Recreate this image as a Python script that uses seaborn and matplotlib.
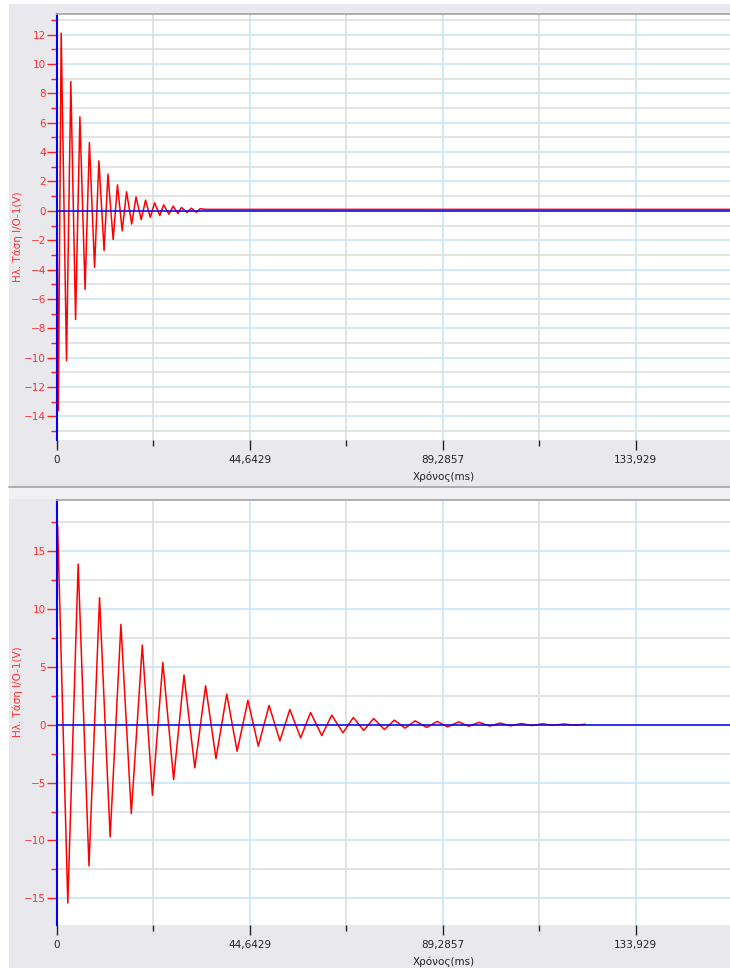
import matplotlib
matplotlib.use("Agg")
import matplotlib.pyplot as plt
import seaborn as sns
from matplotlib.ticker import FixedLocator, MultipleLocator
from matplotlib.patches import Rectangle
from matplotlib.lines import Line2D

# extrema: time (ms) and voltage (V)
top_t = [0, 0.3, 0.97, 2.2, 3.2, 4.3, 5.3, 6.5, 7.5, 8.7, 9.7, 10.9, 11.8, 13.0,
         14.0, 15.1, 16.1, 17.3, 18.3, 19.5, 20.5, 21.6, 22.6, 23.8, 24.7, 25.9,
         26.9, 28.0, 28.8, 30.1, 31.1, 32.3, 33.1, 34.5, 156]
top_v = [0, -13.6, 12.1, -10.2, 8.8, -7.4, 6.4, -5.35, 4.65, -3.85, 3.4, -2.7, 2.5, -1.95,
         1.77, -1.36, 1.3, -0.9, 0.95, -0.6, 0.73, -0.45, 0.55, -0.32, 0.41, -0.23,
         0.32, -0.18, 0.23, -0.11, 0.18, -0.1, 0.14, 0.1, 0.1]

bot_t = [0.15, 2.5, 4.9, 7.4, 9.85, 12.3, 14.8, 17.2, 19.75, 22.1, 24.5, 27.0, 29.4,
         31.9, 34.4, 36.8, 39.3, 41.7, 44.2, 46.6, 49.1, 51.6, 53.9, 56.4, 58.7,
         61.3, 63.6, 66.2, 68.6, 71.0, 73.3, 75.8, 78.1, 80.6, 82.9, 85.6, 88.0,
         90.4, 93.0, 95.3, 97.7, 100.2, 102.6, 105.0, 107.5, 110.0, 112.4, 114.8,
         117.3, 119.8, 122.3]
bot_v = [17.2, -15.4, 13.87, -12.2, 10.96, -9.7, 8.66, -7.68, 6.87, -6.1, 5.37, -4.74, 4.28,
         -3.73, 3.36, -2.93, 2.64, -2.29, 2.1, -1.86, 1.66, -1.4, 1.31, -1.14, 1.05,
         -0.94, 0.82, -0.7, 0.62, -0.5, 0.53, -0.42, 0.39, -0.3, 0.33, -0.24, 0.28,
         -0.19, 0.24, -0.14, 0.2, -0.12, 0.14, -0.1, 0.1, -0.08, 0.08, -0.06,
         0.06, -0.05, 0.04]

x_major = [0, 44.6429, 89.2857, 133.929]
x_labels = ["0", "44,6429", "89,2857", "133,929"]
x_minor = [22.3214, 66.9643, 111.607]

top_yticks = list(range(-14, 13, 2))
bot_yticks = [-15, -10, -5, 0, 5, 10, 15]

BG = "#e9e8ec"
W, H = 730, 968

sns.set_theme(style="white")
plt.rcParams['font.family'] = ['DejaVu Sans']

fig = plt.figure(figsize=(W / 100, H / 100), dpi=100, facecolor="white")
fig.add_artist(Rectangle((9 / W, 0), 1, 1 - 4 / H, transform=fig.transFigure,
                         facecolor=BG, edgecolor="none", zorder=0))
# separator band between the two panels
fig.add_artist(Rectangle((9 / W, 1 - 499 / H), 1, 12 / H, transform=fig.transFigure,
                         facecolor="#f1f0f3", edgecolor="none", zorder=0))
fig.add_artist(Line2D([9 / W, 1], [1 - 487 / H] * 2, transform=fig.transFigure,
                      color="#a8a8a8", lw=1.3))

ax1 = fig.add_axes([57 / W, 1 - 440 / H, 673 / W, 426 / H])
ax2 = fig.add_axes([57 / W, 1 - 925 / H, 673 / W, 425 / H])


def style_panel(ax, t, v, ylim, yticks, yminor, ylab_y):
    sns.lineplot(x=t, y=v, ax=ax, color="#ff0000", lw=1.1, estimator=None,
                 sort=False, legend=False, zorder=2)
    ax.axhline(0, color="#0000f0", lw=1.1, zorder=3)
    ax.set_xlim(0, 155.8)
    ax.set_ylim(*ylim)

    ax.xaxis.set_major_locator(FixedLocator(x_major))
    ax.xaxis.set_minor_locator(FixedLocator(x_minor))
    ax.set_xticklabels(x_labels)
    ax.yaxis.set_major_locator(FixedLocator(yticks))
    ax.yaxis.set_minor_locator(MultipleLocator(yminor))

    ax.set_axisbelow(True)
    ax.grid(which="major", color="#c8e6f7", lw=1.2)
    ax.grid(which="minor", color="#dedede", lw=1.2)

    for s in ["right", "bottom"]:
        ax.spines[s].set_visible(False)
    ax.spines["top"].set_color("#a8a8a8")
    ax.spines["top"].set_linewidth(1.3)
    ax.spines["left"].set_color("#0000ff")
    ax.spines["left"].set_linewidth(1.5)

    ax.tick_params(axis="y", which="major", direction="out", length=7, width=1,
                   color="#ff2020", labelcolor="#ff3030", labelsize=7.5, pad=1, left=True)
    ax.tick_params(axis="y", which="minor", direction="out", length=4, width=1,
                   color="#ff2020", left=True)
    ax.tick_params(axis="x", which="major", direction="out", length=7, width=1,
                   color="#222222", labelcolor="#222222", labelsize=7.5, pad=4, bottom=True)
    ax.tick_params(axis="x", which="minor", direction="out", length=4, width=1,
                   color="#222222", bottom=True)

    ax.set_xlabel("Χρόνος(ms)", fontsize=7.5, color="#222222")
    ax.xaxis.set_label_coords(0.574, -0.073)
    ax.set_ylabel("Ηλ. Τάση I/O-1(V)", fontsize=7.5, color="#ff3030")
    ax.yaxis.set_label_coords(-0.05, ylab_y)


style_panel(ax1, top_t, top_v, (-15.6, 13.4), top_yticks, 1, 0.477)
style_panel(ax2, bot_t, bot_v, (-17.3, 19.4), bot_yticks, 2.5, 0.548)

fig.savefig("out.png", dpi=100, facecolor=fig.get_facecolor())
